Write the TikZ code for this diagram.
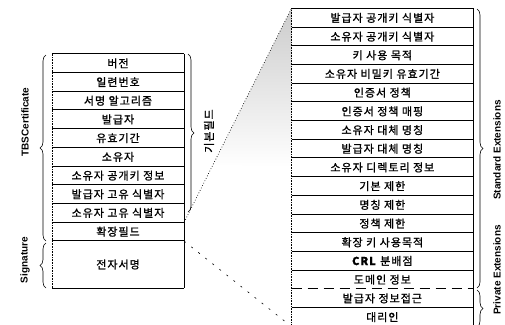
\documentclass[tikz,border=0pt]{standalone}
\usepackage{fontspec}
\newfontfamily\kr[LetterSpace=9,FakeBold=1.2]{Noto Sans CJK KR}
\newfontfamily\lab{Liberation Sans}
\usetikzlibrary{decorations.pathreplacing,calc}
\tikzset{
  lrow/.style={minimum width=132pt, minimum height=18.7pt, inner sep=0pt, font=\kr\fontsize{11}{12}\selectfont},
  rrow/.style={minimum width=181.3pt, minimum height=18.7pt, inner sep=0pt, font=\kr\fontsize{11}{12}\selectfont},
  hline/.style={line width=0.9pt},
  vline/.style={line width=0.7pt},
  vdot/.style={line width=0.6pt, densely dotted},
  fanup/.style={line width=0.7pt, dotted},
  fanlow/.style={line width=0.6pt, dash pattern=on 2pt off 7pt},
  brc/.style={decorate, decoration={brace, amplitude=6pt}, line width=0.6pt},
  sidelab/.style={rotate=90, font=\lab\bfseries\fontsize{10}{12}\selectfont, inner sep=0pt}
}
\begin{document}
\begin{tikzpicture}[x=1pt,y=-1pt]
\useasboundingbox (0,0) rectangle (505,324);
% left table rows
\foreach \t [count=\i] in {버전, 일련번호, 서명 알고리즘, 발급자, 유효기간, 소유자, 소유자 공개키 정보, 발급자 고유 식별자, 소유자 고유 식별자, 확장필드}
  \node[lrow] (l\i) at (118, {54+18.7*(\i-0.5)}) {\t};
\node[lrow, minimum height=47pt] (sig) at (118, 264.5) {전자서명};
% right table rows
\foreach \t [count=\i] in {발급자 공개키 식별자, 소유자 공개키 식별자, 키 사용 목적, 소유자 비밀키 유효기간, 인증서 정책, 인증서 정책 매핑, 소유자 대체 명칭, 발급자 대체 명칭, 소유자 디렉토리 정보, 기본 제한, 명칭 제한, 정책 제한, 확장 키 사용목적, {\textbf{CRL} 분배점}, 도메인 정보, 발급자 정보접근, 대리인}
  \node[rrow] (r\i) at (382.35, {8.5+18.7*(\i-0.5)}) {\t};
% shading near the top of the fan
\shade[top color=gray!40, bottom color=white]
  (r1.north west) -- ($(l10.north east)!0.27!(r1.north west)$) -- (r9.west) -- cycle;
% left table lines
\foreach \i in {1,...,10}
  \draw[hline] (l\i.north west) -- (l\i.north east);
\draw[hline] (sig.north west) -- (sig.north east);
\draw[hline] (sig.south west) -- (sig.south east);
\draw[vdot] (l1.north west) -- (sig.south west);
\draw[vline] (l1.north east) -- (sig.south east);
% right table lines
\foreach \i in {1,...,15}
  \draw[hline] (r\i.north west) -- (r\i.north east);
\draw[line width=0.9pt, dash pattern=on 10pt off 6pt] (r16.north west) -- (r16.north east);
\draw[hline] (r17.north west) -- (r17.north east);
\draw[vdot] (r1.north west) -- (r17.south west);
\draw[vline] (r1.north east) -- (r17.south east);
% fan lines
\draw[fanup] (l10.north east) -- (r1.north west);
\draw[fanlow] (l10.south east) -- (r17.south west);
% braces
\draw[brc] (46,241) -- (46,55);
\draw[brc] (46,288) -- (46,243);
\draw[brc] (188,54) -- (188,212);
\draw[brc] (477,9) -- (477,288);
\draw[brc] (477,290) -- (477,327);
% labels
\node[sidelab] (tbsl) at (25,122) {TBSCertificate};
\node[sidelab] (sigl) at (25,260) {Signature};
\node[rotate=90, font=\kr\fontsize{11}{12}\selectfont, inner sep=0pt] (basl) at (209,131) {기본필드};
\node[sidelab] (stdl) at (497,150) {Standard Extensions};
\node[sidelab] (prvl) at (497,270) {Private Extensions};
\end{tikzpicture}
\end{document}
